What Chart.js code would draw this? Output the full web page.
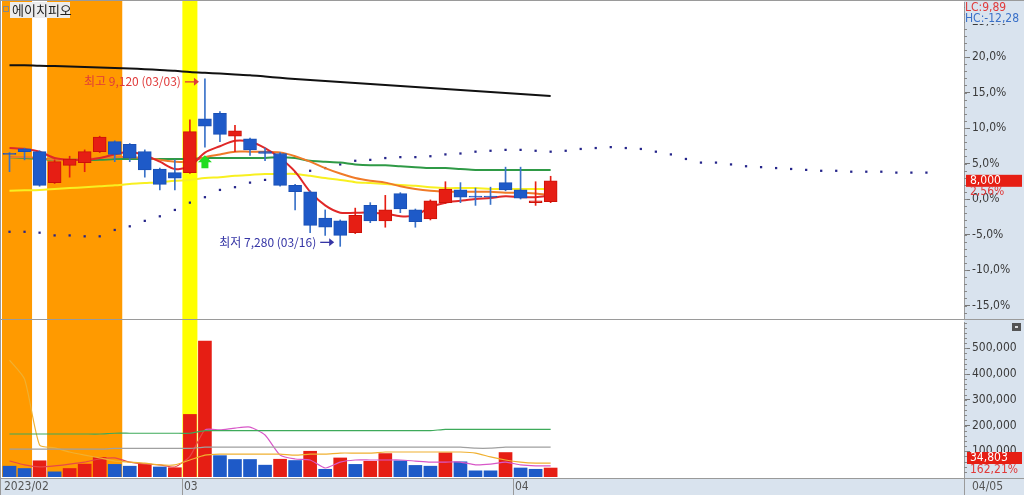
<!DOCTYPE html>
<html><head><meta charset="utf-8">
<script src="https://cdn.jsdelivr.net/npm/chart.js@4.4.1/dist/chart.umd.min.js"></script>
<style>
html,body{margin:0;padding:0;background:#fff;}
#wrap{position:relative;width:1024px;height:495px;overflow:hidden;background:#fff;}
#c1{position:absolute;left:0;top:0;}
#c2{position:absolute;left:0;top:320px;}
</style></head><body>
<div id="wrap"><canvas id="c1" width="1024" height="320"></canvas><canvas id="c2" width="1024" height="175"></canvas></div>
<script>
// ---------------- DATA ----------------
const stockName = '에이치피오';
const year = 2023;
const dates = ['02/13','02/14','02/15','02/16','02/17','02/20','02/21','02/22','02/23','02/24','02/27','02/28',
  '03/02','03/03','03/06','03/07','03/08','03/09','03/10','03/13','03/14','03/15','03/16','03/17','03/20','03/21','03/22','03/23','03/24','03/27','03/28','03/29','03/30','03/31',
  '04/03','04/04','04/05'];
const futureSlots = 27;
const basePrice = 7800;
const open  = [8300,8350,8320,7980,8170,8200,8320,8430,8400,8320,8130,8090,8090,8680,8740,8490,8460,8320,8300,7950,7880,7590,7560,7430,7730,7560,7860,7680,7580,7760,7900,7830,7830,7980,7900,7760,7770];
const high  = [8310,8360,8330,8230,8270,8340,8490,8440,8410,8340,8140,8230,8670,9120,8760,8610,8470,8360,8310,7960,7890,7680,7570,7700,7760,7840,7870,7690,7790,7990,7980,7920,7930,8150,8150,7990,8050];
const low   = [8100,8230,7940,7970,8040,8100,8310,8210,8210,8040,7900,7900,8080,8370,8430,8320,8280,8220,7940,7680,7430,7400,7280,7420,7540,7490,7650,7490,7570,7750,7760,7730,7740,7890,7800,7730,7760];
const close = [8290,8320,7950,8210,8240,8320,8480,8290,8250,8120,7960,8030,8540,8600,8510,8550,8340,8300,7950,7880,7510,7490,7400,7620,7560,7680,7690,7550,7780,7910,7820,7820,7820,7900,7810,7780,8000];
const ma5   = [8360,8350,8320,8250,8230,8230,8250,8290,8320,8280,8210,8130,8160,8310,8380,8440,8430,8360,8250,8100,7880,7730,7650,7650,7650,7640,7610,7620,7710,7760,7780,7800,7810,7830,7820,7820,7840];
const ma10  = [8260,8260,8250,8230,8230,8240,8250,8260,8260,8250,8230,8210,8210,8260,8290,8320,8320,8320,8310,8270,8210,8140,8080,8030,8000,7980,7940,7910,7890,7880,7880,7880,7880,7870,7870,7860,7840];
const ma20  = [8260,8250,8240,8230,8230,8230,8230,8240,8240,8240,8240,8240,8240,8250,8250,8250,8250,8250,8260,8250,8220,8210,8200,8180,8170,8170,8160,8150,8140,8140,8130,8120,8120,8120,8120,8120,8120];
const ma60  = [7890,7895,7900,7910,7920,7930,7940,7950,7965,7975,7985,8000,8010,8030,8040,8055,8065,8075,8075,8075,8055,8030,8010,7985,7975,7965,7955,7945,7930,7920,7920,7920,7910,7910,7910,7910,7910];
const ma120 = [9270,9270,9264,9261,9256,9250,9245,9239,9234,9226,9217,9208,9195,9186,9178,9169,9160,9146,9132,9118,9107,9096,9085,9074,9063,9052,9041,9030,9019,9008,8997,8986,8975,8964,8953,8942,8932];
const leadSpan = [7440,7440,7430,7400,7400,7390,7390,7460,7500,7560,7610,7680,7760,7820,7900,7930,7980,8010,8040,8080,8110,8140,8180,8220,8230,8250,8260,8260,8270,8290,8300,8320,8330,8340,8340,8330,8320,8330,8350,8360,8370,8360,8350,8320,8290,8240,8200,8200,8180,8160,8150,8140,8130,8120,8110,8110,8100,8100,8100,8090,8090,8090];
const volume = [42000,33000,63000,20000,33000,50000,76000,49000,42000,50000,39000,36000,243000,528000,83000,68000,68000,46000,69000,64000,100000,30000,74000,49000,61000,91000,63000,45000,42000,94000,59000,24000,24000,95000,35000,30000,34803];
const volUp  = [0,0,1,0,1,1,1,0,0,1,0,1,1,1,0,0,0,0,1,0,1,0,1,0,1,1,0,0,0,1,0,0,0,1,0,0,1];
const volMaA = [454000,380000,124000,113000,97000,85000,74000,62000,58000,54000,47000,47000,66000,85000,89000,89000,89000,89000,89000,85000,89000,89000,93000,93000,93000,97000,97000,97000,97000,97000,97000,93000,78000,66000,58000,54000,54000];
const volMaB = [62000,47000,39000,43000,50000,58000,70000,74000,58000,50000,47000,39000,80000,183000,183000,190000,194000,163000,85000,70000,66000,35000,58000,66000,66000,66000,66000,62000,58000,58000,58000,47000,50000,58000,47000,43000,43000];
const volMaC = [108000,108000,108000,108000,108000,108000,108000,111000,111000,111000,111000,111000,111000,116000,116000,116000,116000,116000,116000,116000,116000,116000,116000,116000,116000,116000,116000,116000,116000,116000,116000,112000,112000,116000,116000,116000,116000];
const volMaD = [167000,167000,167000,167000,167000,167000,167000,170000,170000,170000,170000,170000,170000,180000,180000,180000,180000,180000,180000,180000,180000,180000,180000,180000,180000,180000,180000,180000,180000,185000,185000,185000,185000,185000,185000,185000,185000];
const volRatio = 162.21;
const orangeDays = [0,1,3,4,5,6,7];
const yellowDays = [12];
const signalDay = 13, signalPrice = 8270;
const pctTicks = [-15,-10,-5,0,5,10,15,20,25];
const pctRange = [-16.76, 27.75];
const volTicks = [100000,200000,300000,400000,500000];
const volMax = 602000;

// ---------------- STYLE ----------------
const FONT = '"Liberation Sans Narrow","DejaVu Sans Condensed","Liberation Sans",sans-serif';
const KFONT = '"Noto Sans CJK KR","Noto Sans",sans-serif';
const RED = '#e61e14', BLUE = '#1e5ac8', AXBG = '#d9e3ee';
Chart.defaults.font.family = FONT;
Chart.defaults.animation = false;

const N = dates.length;
const labels = dates.concat(Array(futureSlots).fill(''));
const fmt = n => Math.round(n).toLocaleString('en-US');
const pstr = (v, d) => v.toFixed(d).replace('.', ',');

function slotW(xs){ return xs.getPixelForValue(1) - xs.getPixelForValue(0); }
function runs(arr){ const r=[]; let s=null,p=null; arr.forEach(i=>{ if(s===null){s=i;p=i;} else if(i===p+1){p=i;} else {r.push([s,p]); s=i;p=i;} }); if(s!==null) r.push([s,p]); return r; }
function fitY(s){ s.width=60; s.paddingTop=0; s.paddingBottom=0; s.paddingLeft=0; s.paddingRight=0; }

const common = (bottomExtra) => ({
  id:'common',
  beforeDraw(c){
    const ctx=c.ctx, ca=c.chartArea;
    ctx.save();
    ctx.fillStyle='#fff'; ctx.fillRect(0,0,c.width,c.height);
    ctx.fillStyle=AXBG; ctx.fillRect(ca.right,0,c.width-ca.right,c.height);
    ctx.restore();
  },
  beforeDatasetsDraw(c){
    const ctx=c.ctx, ca=c.chartArea, xs=c.scales.x, w=slotW(xs);
    ctx.save();
    const paint=(days,col)=>runs(days).forEach(([a,b])=>{
      const x0=xs.getPixelForValue(a)-w/2, x1=xs.getPixelForValue(b)+w/2;
      ctx.fillStyle=col; ctx.fillRect(x0,0,x1-x0,ca.bottom+bottomExtra);
    });
    paint(orangeDays,'#ff9a00'); paint(yellowDays,'#ffff00');
    ctx.restore();
  }
});

function minorTicks(c, scaleId, vals){
  const ctx=c.ctx, s=c.scales[scaleId], ca=c.chartArea;
  ctx.save(); ctx.strokeStyle='#888'; ctx.lineWidth=1; ctx.beginPath();
  vals.forEach(v=>{ const y=Math.round(s.getPixelForValue(v))+0.5; if(y>ca.top&&y<ca.bottom){ctx.moveTo(ca.right,y);ctx.lineTo(ca.right+3,y);} });
  ctx.stroke(); ctx.restore();
}

// ---------------- PRICE CHART ----------------
const up = close.map((c,i)=>c>=open[i]);
const priceDecor = {
  id:'priceDecor',
  afterDatasetsDraw(c){
    const ctx=c.ctx, xs=c.scales.x, ys=c.scales.y;
    ctx.save();
    const sx=xs.getPixelForValue(signalDay), sy=ys.getPixelForValue(signalPrice);
    ctx.fillStyle='#22dd22';
    ctx.beginPath(); ctx.moveTo(sx,sy-1); ctx.lineTo(sx+7,sy+6); ctx.lineTo(sx+3.5,sy+6); ctx.lineTo(sx+3.5,sy+12);
    ctx.lineTo(sx-3.5,sy+12); ctx.lineTo(sx-3.5,sy+6); ctx.lineTo(sx-7,sy+6); ctx.closePath(); ctx.fill();
    const hv=Math.max(...high), hi=high.indexOf(hv), lv=Math.min(...low), li=low.indexOf(lv);
    const note=(i,v,txt,col,dy)=>{
      const x=xs.getPixelForValue(i), y=ys.getPixelForValue(v)+dy;
      ctx.strokeStyle=col; ctx.fillStyle=col; ctx.lineWidth=1.3;
      ctx.beginPath(); ctx.moveTo(x-20,y); ctx.lineTo(x-8,y); ctx.stroke();
      ctx.beginPath(); ctx.moveTo(x-6,y); ctx.lineTo(x-11,y-4); ctx.lineTo(x-11,y+4); ctx.closePath(); ctx.fill();
      ctx.font='12px '+KFONT; ctx.textAlign='right'; ctx.textBaseline='middle';
      ctx.fillText(txt,x-24,y);
    };
    note(hi,hv,'최고 '+fmt(hv)+' ('+dates[hi]+')','#e03a3a',3);
    note(li,lv,'최저 '+fmt(lv)+' ('+dates[li]+')','#3535a5',-4);
    ctx.restore();
  },
  afterDraw(c){
    const ctx=c.ctx, ca=c.chartArea, ys=c.scales.y;
    minorTicks(c,'y',Array.from({length:45},(_,k)=>basePrice*(1+(k-17)/100)));
    ctx.save();
    ctx.strokeStyle='#9a9a9a'; ctx.lineWidth=1;
    ctx.beginPath(); ctx.moveTo(0.5,0); ctx.lineTo(0.5,c.height); ctx.moveTo(0,0.5); ctx.lineTo(c.width,0.5);
    ctx.moveTo(0,ca.bottom+1.5); ctx.lineTo(c.width,ca.bottom+1.5); ctx.stroke();
    ctx.fillStyle='#ececec'; ctx.fillRect(10,2,60,16);
    ctx.strokeStyle='#888'; ctx.strokeRect(3.5,6.5,5,5);
    ctx.fillStyle='#222'; ctx.font='13px '+KFONT; ctx.textBaseline='middle'; ctx.textAlign='left';
    ctx.fillText(stockName,12,10);
    const last=close[N-1];
    ctx.fillStyle=AXBG; ctx.fillRect(ca.right+1,1,c.width-ca.right-1,23);
    ctx.font='12px '+FONT;
    ctx.fillStyle='#e03a3a'; ctx.fillText('LC:'+pstr((last/Math.min(...low)-1)*100,2),ca.right+1,8);
    ctx.fillStyle='#3a70c8'; ctx.fillText('HC:'+pstr((last/Math.max(...high)-1)*100,2),ca.right+1,19);
    const py=ys.getPixelForValue(last);
    ctx.fillStyle=RED; ctx.fillRect(ca.right+2,py-6,56,12);
    ctx.fillStyle='#fff'; ctx.fillText(fmt(last),ca.right+6,py);
    ctx.fillStyle='#e03a3a'; ctx.fillText(pstr((last/basePrice-1)*100,2)+'%',ca.right+6,py+11);
    ctx.restore();
  }
};

const lineDs = (data,color,order,w) => ({type:'line',data,borderColor:color,borderWidth:w||2,pointRadius:0,tension:0.3,order,fill:false});

new Chart(document.getElementById('c1'),{
  type:'bar',
  data:{labels,datasets:[
    {type:'bar',data:dates.map((d,i)=>[open[i],close[i]]),backgroundColor:up.map(u=>u?RED:BLUE),borderColor:up.map(u=>u?'#cc1208':'#1a50b5'),borderWidth:1,borderSkipped:false,barThickness:13,grouped:false,order:0,minBarLength:1},
    {type:'bar',data:dates.map((d,i)=>[low[i],high[i]]),backgroundColor:up.map(u=>u?RED:'#3a72c8'),barThickness:1,grouped:false,order:1},
    lineDs(ma5,'#e02828',2),
    lineDs(ma10,'#f07a28',3),
    lineDs(ma20,'#2f9a46',4),
    lineDs(ma60,'#f8f020',5),
    lineDs(ma120,'#111111',6),
    {type:'line',data:leadSpan,showLine:false,pointRadius:1.6,pointStyle:'rect',pointBackgroundColor:'#25258a',pointBorderWidth:0,order:7}
  ]},
  options:{
    responsive:false,devicePixelRatio:1,animation:false,
    layout:{autoPadding:false,padding:{left:2,right:0,top:2,bottom:2}},
    plugins:{legend:{display:false},tooltip:{enabled:false}},
    scales:{
      x:{type:'category',display:false,offset:true},
      y:{position:'right',min:basePrice*(1+pctRange[0]/100),max:basePrice*(1+pctRange[1]/100),
        afterFit:fitY,
        afterBuildTicks(s){s.ticks=pctTicks.map(p=>({value:basePrice*(1+p/100)}));},
        ticks:{autoSkip:false,color:'#3a3a3a',font:{size:12,family:FONT},padding:2,
          callback(v){return pstr(Math.round((v/basePrice-1)*1000)/10,1)+'%';}},
        grid:{drawOnChartArea:false,drawTicks:true,tickLength:6,color:'#777'},
        border:{display:true,color:'#9a9a9a'}}
    }
  },
  plugins:[common(1),priceDecor]
});

// ---------------- VOLUME CHART ----------------
const volDecor = {
  id:'volDecor',
  afterDraw(c){
    const ctx=c.ctx, ca=c.chartArea, xs=c.scales.x, ys=c.scales.y, w=slotW(xs);
    minorTicks(c,'y',Array.from({length:31},(_,k)=>k*20000));
    ctx.save();
    ctx.strokeStyle='#9a9a9a'; ctx.lineWidth=1;
    ctx.beginPath(); ctx.moveTo(0.5,0); ctx.lineTo(0.5,c.height); ctx.stroke();
    ctx.fillStyle='#555'; ctx.fillRect(1012,3,9,8); ctx.fillStyle='#ddd'; ctx.fillRect(1015,6,3,2);
    const last=volume[N-1];
    const vy=Math.min(ys.getPixelForValue(last),ca.bottom-19);
    ctx.font='12px '+FONT; ctx.textBaseline='middle'; ctx.textAlign='left';
    ctx.fillStyle=RED; ctx.fillRect(ca.right+3,vy-6,55,12);
    ctx.fillStyle='#fff'; ctx.fillText(fmt(last),ca.right+6,vy);
    ctx.fillStyle='#e03a3a'; ctx.fillText(pstr(volRatio,2)+'%',ca.right+6,vy+12);
    const top=ca.bottom+1;
    ctx.fillStyle=AXBG; ctx.fillRect(1,top,c.width-1,c.height-top);
    ctx.strokeStyle='#9a9a9a';
    ctx.beginPath(); ctx.moveTo(0,top+0.5); ctx.lineTo(c.width,top+0.5);
    ctx.moveTo(ca.right+0.5,top); ctx.lineTo(ca.right+0.5,c.height); ctx.stroke();
    ctx.fillStyle='#555'; ctx.font='12px '+FONT; ctx.textBaseline='middle';
    for(let i=0;i<N;i++){
      const m=dates[i].slice(0,2);
      if(i===0||m!==dates[i-1].slice(0,2)){
        const x=Math.round(xs.getPixelForValue(i)-w/2)+0.5;
        if(i>0){ctx.beginPath();ctx.moveTo(x,top);ctx.lineTo(x,c.height);ctx.stroke();}
        ctx.fillText(i===0?year+'/'+m:m,x+1.5,top+9);
      }
    }
    ctx.fillText(dates[N-1],ca.right+8,top+9);
    ctx.restore();
  }
};

const vline = (data,color,seg) => ({type:'line',data,borderColor:color,borderWidth:1.2,pointRadius:0,tension:0.2,order:3,fill:false,segment:seg});

new Chart(document.getElementById('c2'),{
  type:'bar',
  data:{labels,datasets:[
    {type:'bar',data:volume,backgroundColor:volUp.map(u=>u?RED:BLUE),barThickness:13,grouped:false,order:5},
    vline(volMaD,'#3daa5a'),
    vline(volMaC,'#a0a0a0'),
    vline(volMaA,'#f0b030'),
    vline(volMaB,'#e84848',{borderColor:ctx=>ctx.p0DataIndex>=13?'#d858c8':'#e84848'})
  ]},
  options:{
    responsive:false,devicePixelRatio:1,animation:false,
    layout:{autoPadding:false,padding:{left:2,right:0,top:2,bottom:18}},
    plugins:{legend:{display:false},tooltip:{enabled:false}},
    scales:{
      x:{type:'category',display:false,offset:true},
      y:{position:'right',min:0,max:volMax,
        afterFit:fitY,
        afterBuildTicks(s){s.ticks=volTicks.map(v=>({value:v}));},
        ticks:{autoSkip:false,color:'#3a3a3a',font:{size:12,family:FONT},padding:2,callback(v){return fmt(v);}},
        grid:{drawOnChartArea:false,drawTicks:true,tickLength:6,color:'#777'},
        border:{display:true,color:'#9a9a9a'}}
    }
  },
  plugins:[common(0),volDecor]
});
</script>
</body></html>
